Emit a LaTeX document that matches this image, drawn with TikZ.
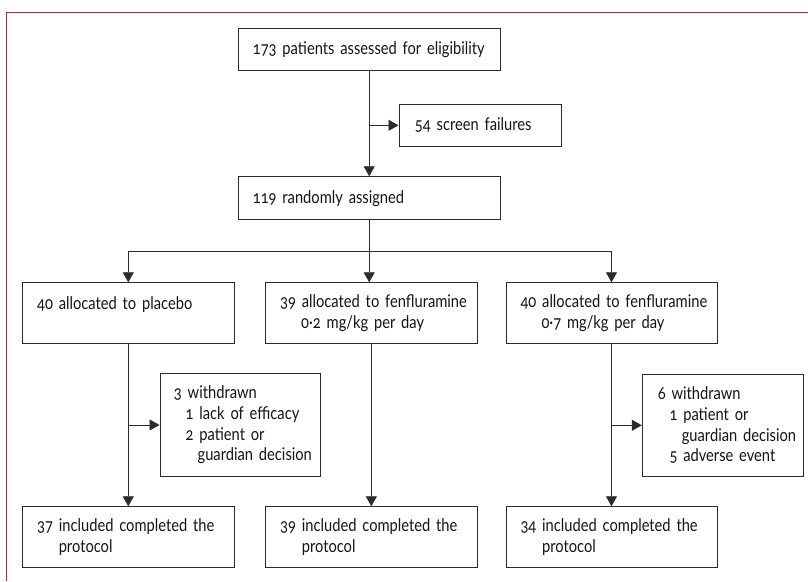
\documentclass[tikz,border=0pt]{standalone}
\usepackage{fontspec}
\setmainfont{Lato}[Numbers=OldStyle, FakeStretch=0.84]
\usetikzlibrary{arrows.meta}
\definecolor{framecol}{HTML}{C8184C}
\definecolor{linecol}{HTML}{2B2B2B}
\newcommand\myboxfont{\fontsize{17.5}{20.6}\selectfont\spaceskip=3pt plus 1pt minus 0.5pt\relax}
\tikzset{
  box/.style={draw=linecol, line width=0.9pt, rectangle, align=left,
    font=\myboxfont, text=black!92, inner ysep=0pt},
  arr/.style={draw=linecol, line width=0.9pt, -{Triangle[length=10pt,width=11pt]}},
  ln/.style={draw=linecol, line width=0.9pt}
}
\begin{document}
\begin{tikzpicture}[x=1pt,y=-1pt]
\useasboundingbox (0,0) rectangle (808,581);
\draw[framecol, line width=1.1pt] (808,12.5) -- (6.5,12.5) -- (6.5,581);
% boxes
\node[box, minimum width=261.7pt, minimum height=42.4pt, text width=232.7pt, inner xsep=14.5pt] (elig) at (369.2,49.5) {\mbox{173 patients assessed for eligibility}};
\node[box, minimum width=162.7pt, minimum height=42.7pt, text width=130.7pt, inner xsep=16pt] (scr) at (480.3,125.3) {\mbox{54 screen failures}};
\node[box, minimum width=261.7pt, minimum height=43pt, text width=232.7pt, inner xsep=14.5pt] (rand) at (369.2,198.2) {\mbox{119 randomly assigned}};
\node[box, minimum width=211.3pt, minimum height=60.6pt, text width=182.3pt, inner xsep=14.5pt] (pla) at (128.3,313) {\mbox{40 allocated to placebo}\\\mbox{}};
\node[box, minimum width=211.3pt, minimum height=60.6pt, text width=182.3pt, inner xsep=14.5pt] (low) at (371.3,313) {\mbox{39 allocated to fenfluramine}\\\mbox{\hspace*{21pt}0·2 mg/kg per day}};
\node[box, minimum width=211pt, minimum height=60.6pt, text width=182pt, inner xsep=14.5pt] (high) at (611.5,313) {\mbox{40 allocated to fenfluramine}\\\mbox{\hspace*{21pt}0·7 mg/kg per day}};
\node[box, minimum width=160.7pt, minimum height=103.4pt, text width=132.7pt, inner xsep=14pt] (wpla) at (240.3,425) {\mbox{3 withdrawn}\\\mbox{\hspace*{11.7pt}1 lack of efficacy}\\\mbox{\hspace*{11.7pt}2 patient or}\\\mbox{\hspace*{23.7pt}guardian decision}};
\node[box, minimum width=161pt, minimum height=102.7pt, text width=130pt, inner xsep=15.5pt] (whigh) at (722.8,425.3) {\mbox{6 withdrawn}\\\mbox{\hspace*{11.7pt}1 patient or}\\\mbox{\hspace*{24pt}guardian decision}\\\mbox{\hspace*{11.7pt}5 adverse event}};
\node[box, minimum width=211.3pt, minimum height=61pt, text width=182.3pt, inner xsep=14.5pt] (cpla) at (128.3,537.2) {\mbox{37 included completed the}\\\mbox{\hspace*{21.6pt}protocol}};
\node[box, minimum width=211.3pt, minimum height=61pt, text width=182.3pt, inner xsep=14.5pt] (clow) at (371.3,537.2) {\mbox{39 included completed the}\\\mbox{\hspace*{21.6pt}protocol}};
\node[box, minimum width=211pt, minimum height=61pt, text width=182pt, inner xsep=14.5pt] (chigh) at (611.5,537.2) {\mbox{34 included completed the}\\\mbox{\hspace*{21.6pt}protocol}};
% connectors
\coordinate (split) at (369.2,251);
\draw[arr] (elig.south) -- (elig.south |- rand.north);
\draw[arr] (elig.south |- scr.west) -- (scr.west);
\draw[ln] (rand.south) -- (split);
\draw[ln] (pla.north |- split) -- (high.north |- split);
\draw[arr] (split) -- (split |- low.north);
\draw[arr] (pla.north |- split) -- (pla.north);
\draw[arr] (high.north |- split) -- (high.north);
\draw[arr] (pla.south) -- (cpla.north);
\draw[arr] (pla.south |- wpla.west) -- (wpla.west);
\draw[arr] (low.south) -- (clow.north);
\draw[arr] (high.south) -- (chigh.north);
\draw[arr] (high.south |- whigh.west) -- (whigh.west);
\end{tikzpicture}
\end{document}
